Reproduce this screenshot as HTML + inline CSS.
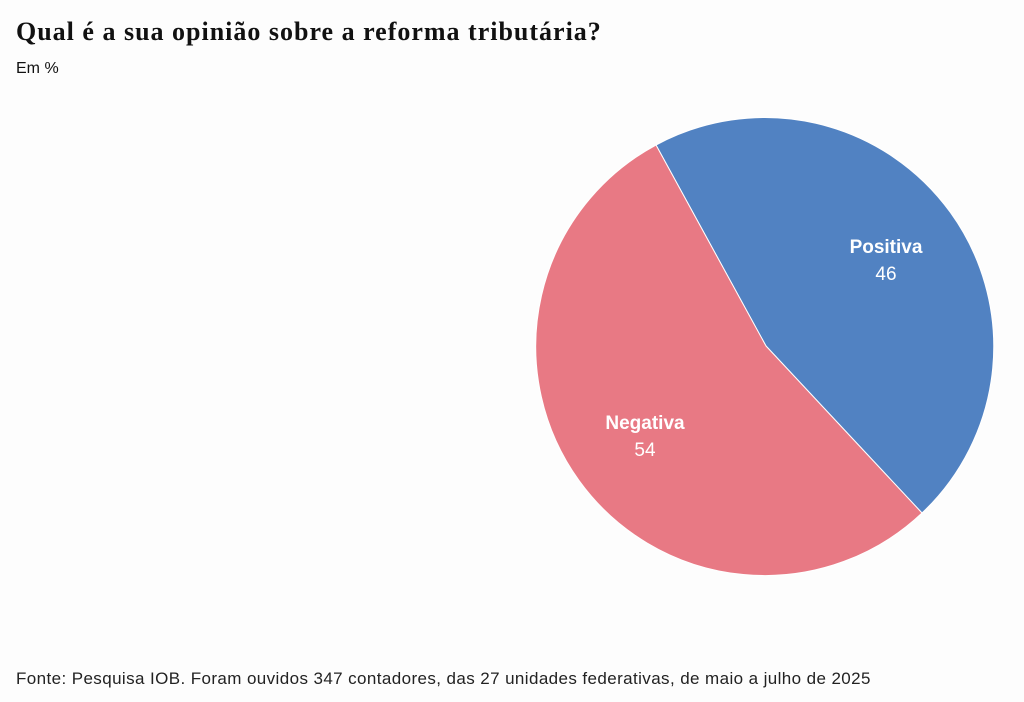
<!DOCTYPE html>
<html><head><meta charset="utf-8"><style>
body{margin:0;background:#fdfdfd;width:1024px;height:702px;position:relative;overflow:hidden;font-family:"Liberation Sans",sans-serif;color:#111}
.t{position:absolute;left:16px;top:17px;font-family:"Liberation Serif",serif;font-weight:bold;font-size:26px;letter-spacing:1px}
.s{position:absolute;left:16px;top:60px;font-size:16px}
.f{position:absolute;left:16px;top:669px;font-size:17px;letter-spacing:0.4px;color:#222}
</style></head><body>
<div class="t">Qual é a sua opinião sobre a reforma tributária?</div>
<div class="s">Em %</div>
<svg width="1024" height="702" style="position:absolute;left:0;top:0">
<path d="M766,346 L656,145 A229,229 0 0 1 922,513 Z" fill="#5182c2" stroke="#fff" stroke-width="1"/>
<path d="M766,346 L922,513 A229,229 0 1 1 656,145 Z" fill="#e87984" stroke="#fff" stroke-width="1"/>
<g font-family="Liberation Sans,sans-serif" fill="#fff" text-anchor="middle" font-size="19">
<text x="886" y="253" font-weight="bold">Positiva</text>
<text x="886" y="280">46</text>
<text x="645" y="429" font-weight="bold">Negativa</text>
<text x="645" y="456">54</text>
</g>
</svg>
<div class="f">Fonte: Pesquisa IOB. Foram ouvidos 347 contadores, das 27 unidades federativas, de maio a julho de 2025</div>
</body></html>
